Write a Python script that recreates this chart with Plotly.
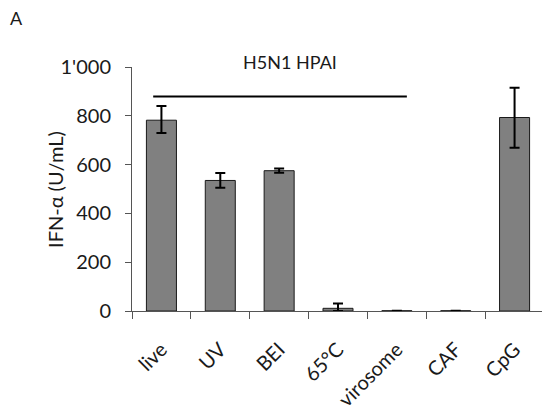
import plotly.graph_objects as go

categories = ["live", "UV", "BEI", "65°C", "virosome", "CAF", "CpG"]
ifn_alpha = [782, 535, 575, 11, 1, 1, 793]
err_plus = [58, 31, 9, 20, 0, 0, 122]
err_minus = [52, 30, 8, 11, 0, 0, 124]
ytick_vals = [0, 200, 400, 600, 800, 1000]
ytick_text = ["0", "200", "400", "600", "800", "1'000"]

font = "Lato, 'Open Sans', sans-serif"
ink = "#1a1a1a"

fig = go.Figure()
fig.add_trace(go.Bar(
    x=categories, y=ifn_alpha,
    marker=dict(color="#808080", line=dict(color=ink, width=1)),
    error_y=dict(type="data", array=err_plus, arrayminus=err_minus,
                 color="black", thickness=2, width=5, symmetric=False),
))

# bracket line over the virus preparations
fig.add_shape(type="line", xref="x", yref="y", x0=-0.14, x1=4.17, y0=879, y1=879,
              line=dict(color="black", width=2))
fig.add_annotation(x=0.3835, y=1.0225, xref="paper", yref="paper", text="H5N1 HPAI",
                   showarrow=False, xanchor="center", yanchor="middle",
                   font=dict(size=18, color=ink, family=font))
fig.add_annotation(x=-0.301, y=1.2, xref="paper", yref="paper", text="A",
                   showarrow=False, xanchor="left", yanchor="middle",
                   font=dict(size=18, color=ink, family=font))
# y title as annotation so it can sit closer than the widest tick label
fig.add_annotation(x=-0.187, y=0.5, xref="paper", yref="paper", text="IFN-α (U/mL)",
                   textangle=-90, showarrow=False, xanchor="center", yanchor="middle",
                   font=dict(size=20, color=ink, family=font))

# page body has an 8px margin, so the figure is 8px smaller than the window
fig.update_layout(
    width=542, height=408,
    margin=dict(l=124, r=6, t=59, b=105),
    plot_bgcolor="white", paper_bgcolor="white",
    bargap=0.49, showlegend=False,
    font=dict(family=font, size=20, color=ink),
)
fig.update_xaxes(
    showline=True, linecolor="#555", linewidth=1, automargin=False,
    ticks="outside", ticklen=7, tickcolor="#555", tickson="boundaries",
    tickangle=-45, tickfont=dict(size=20), ticklabelstandoff=18,
)
fig.update_yaxes(
    range=[0, 1000], showline=True, linecolor="#555", linewidth=1, automargin=False,
    ticks="outside", ticklen=6, tickcolor="#555", ticklabelstandoff=10,
    tickvals=ytick_vals, ticktext=ytick_text, showgrid=False, zeroline=False,
    tickfont=dict(size=20),
)

fig.write_html("out.html")
